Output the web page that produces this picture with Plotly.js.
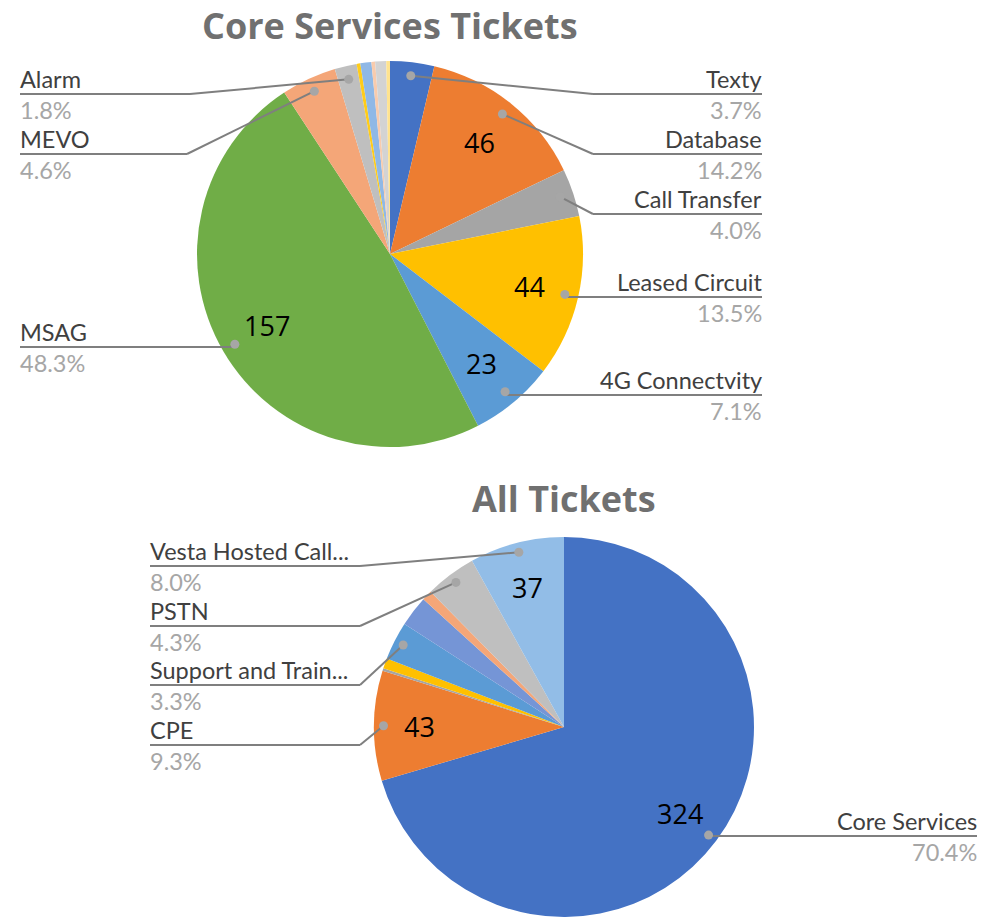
<!DOCTYPE html>
<html><head><meta charset="utf-8">
<script src="https://cdn.plot.ly/plotly-3.0.1.min.js"></script>
<style>html,body{margin:0;padding:0;background:#fff}#chart{width:985px;height:919px}</style>
</head><body><div id="chart"></div>
<script>
// ---------- DATA ----------
const coreTitle = 'Core Services Tickets';
const coreLabels = ['Texty','Database','Call Transfer','Leased Circuit','4G Connectvity','MSAG','MEVO','Alarm','Other 1','Other 2','Other 3','Other 4','Other 5'];
const coreValues = [12, 46, 13, 44, 23, 157, 15, 6, 1, 3, 1, 3, 1];
const coreNumberShown = ['Database','Leased Circuit','4G Connectvity','MSAG'];

const allTitle = 'All Tickets';
const allLabels = ['Core Services','CPE','Other A','Other B','Support and Train...','Other C','Other D','PSTN','Vesta Hosted Call...'];
const allValues = [324, 43, 1, 4, 15, 12, 4, 20, 37];
const allNumberShown = ['Core Services','CPE','Vesta Hosted Call...'];

// ---------- STYLE / LAYOUT ----------
const W = 985, H = 919;
const coreColors = ['#4472C4','#ED7D31','#A5A5A5','#FFC000','#5B9BD5','#70AD47','#F4A678','#BFBFBF','#FFCC1A','#8FB8E6','#F8CBAD','#D3D3D3','#FFE38F'];
const allColors = ['#4472C4','#ED7D31','#A5A5A5','#FFC000','#5B9BD5','#7595D6','#F4A678','#BFBFBF','#92BDE7'];

const coreGeom = {cx:390, cy:254, r:193, numF:0.74, dotF:0.93, titleY:25.5};
const allGeom  = {cx:564, cy:727, r:190, numF:0.76, dotF:0.95, titleY:498};

const coreCallouts = {
  'Texty':          {side:'right', lineY:94,  elbowX:593, edgeX:762},
  'Database':       {side:'right', lineY:154, elbowX:593, edgeX:762},
  'Call Transfer':  {side:'right', lineY:214, elbowX:593, edgeX:762},
  'Leased Circuit': {side:'right', lineY:297, elbowX:null, edgeX:762},
  '4G Connectvity': {side:'right', lineY:395, elbowX:null, edgeX:762},
  'MSAG':           {side:'left',  lineY:347, elbowX:null, edgeX:20},
  'MEVO':           {side:'left',  lineY:154, elbowX:187, edgeX:20},
  'Alarm':          {side:'left',  lineY:94,  elbowX:190, edgeX:20}
};
const allCallouts = {
  'Core Services':        {side:'right', lineY:836, elbowX:null, edgeX:977},
  'CPE':                  {side:'left',  lineY:745, elbowX:360, edgeX:150},
  'Support and Train...': {side:'left',  lineY:685, elbowX:360, edgeX:150},
  'PSTN':                 {side:'left',  lineY:626, elbowX:360, edgeX:150},
  'Vesta Hosted Call...': {side:'left',  lineY:566, elbowX:360, edgeX:150}
};

const TITLE_FONT = '"Open Sans", Lato, sans-serif';
const LABEL_FONT = 'Lato, "Open Sans", sans-serif';
const px = x => x / W;
const py = y => 1 - y / H;

const traces = [];
const annotations = [];
const shapes = [];

function buildPie(labels, values, colors, geom, title, numberShown, callouts) {
  const total = values.reduce((a,b)=>a+b,0);
  traces.push({
    type:'pie', labels, values, sort:false, direction:'clockwise', rotation:0,
    marker:{colors, line:{color:'#ffffff', width:0}},
    textinfo:'none', hoverinfo:'label+value+percent', showlegend:false,
    domain:{x:[px(geom.cx-geom.r), px(geom.cx+geom.r)], y:[py(geom.cy+geom.r), py(geom.cy-geom.r)]}
  });
  annotations.push({
    text:'<b>'+title+'</b>', x:px(geom.cx), y:py(geom.titleY), xref:'paper', yref:'paper',
    xanchor:'center', yanchor:'middle', showarrow:false, borderpad:0,
    font:{family:TITLE_FONT, size:36, color:'#707070'}
  });
  let cum = 0;
  values.forEach((v,i)=>{
    const mid = (cum + v/2) / total * 2 * Math.PI;
    cum += v;
    const name = labels[i];
    const sx = Math.sin(mid), cy = Math.cos(mid);
    if (numberShown.includes(name)) {
      annotations.push({
        text:String(v), x:px(geom.cx + geom.numF*geom.r*sx), y:py(geom.cy - geom.numF*geom.r*cy),
        xref:'paper', yref:'paper', xanchor:'center', yanchor:'middle', showarrow:false,
        font:{family:TITLE_FONT, size:27, color:'#000000'}
      });
    }
    const c = callouts[name];
    if (c) {
      const dx = geom.cx + geom.dotF*geom.r*sx, dy = geom.cy - geom.dotF*geom.r*cy;
      const ex = c.elbowX === null ? dx : c.elbowX;
      const ey = c.lineY;
      const lineStyle = {color:'#7f7f7f', width:2};
      shapes.push({type:'line', xref:'paper', yref:'paper', x0:px(dx), y0:py(dy), x1:px(ex), y1:py(ey), line:lineStyle});
      shapes.push({type:'line', xref:'paper', yref:'paper', x0:px(ex), y0:py(ey), x1:px(c.edgeX), y1:py(ey), line:lineStyle});
      const rr = 4.5;
      shapes.push({type:'circle', xref:'paper', yref:'paper', x0:px(dx-rr), x1:px(dx+rr), y0:py(dy+rr), y1:py(dy-rr),
        fillcolor:'#a6a6a6', line:{width:0}});
      const anchor = c.side === 'right' ? 'right' : 'left';
      const shift = c.side === 'right' ? 1 : -1;
      annotations.push({
        text:name, x:px(c.edgeX + shift), y:py(ey - 15), xref:'paper', yref:'paper', xanchor:anchor, yanchor:'middle',
        showarrow:false, borderpad:0, font:{family:LABEL_FONT, size:23.5, color:'#404040'}
      });
      const pct = (v/total*100).toFixed(1) + '%';
      annotations.push({
        text:pct, x:px(c.edgeX + shift), y:py(ey + 16), xref:'paper', yref:'paper', xanchor:anchor, yanchor:'middle',
        showarrow:false, borderpad:0, font:{family:LABEL_FONT, size:23.5, color:'#a6a6a6'}
      });
    }
  });
}

buildPie(coreLabels, coreValues, coreColors, coreGeom, coreTitle, coreNumberShown, coreCallouts);
buildPie(allLabels, allValues, allColors, allGeom, allTitle, allNumberShown, allCallouts);

const layout = {
  width:W, height:H, margin:{l:0,r:0,t:0,b:0},
  paper_bgcolor:'#ffffff', plot_bgcolor:'#ffffff',
  showlegend:false, annotations, shapes,
  font:{family:LABEL_FONT}
};
Plotly.newPlot('chart', traces, layout, {displayModeBar:false, staticPlot:true});
</script>
</body></html>
